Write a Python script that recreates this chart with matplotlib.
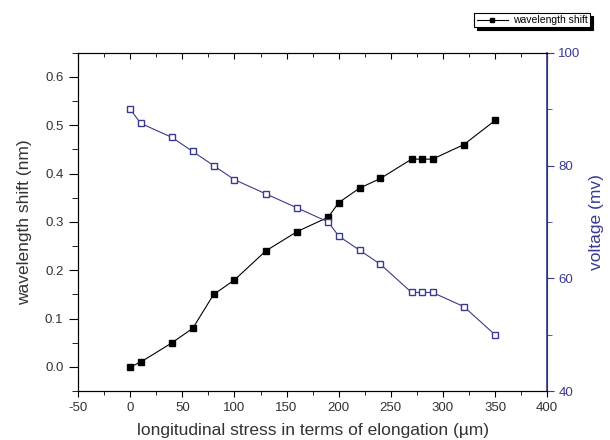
import matplotlib.pyplot as plt
from matplotlib.ticker import MultipleLocator

# elongation (um)
elongation = [0, 10, 40, 60, 80, 100, 130, 160, 190, 200, 220, 240, 270, 280, 290, 320, 350]
# wavelength shift (nm)
wl_shift = [0.0, 0.01, 0.05, 0.08, 0.15, 0.18, 0.24, 0.28, 0.31, 0.34, 0.37, 0.39,
            0.43, 0.43, 0.43, 0.46, 0.51]
# voltage (mv)
voltage = [90, 87.5, 85, 82.5, 80, 77.5, 75, 72.5, 70, 67.5, 65, 62.5,
           57.5, 57.5, 57.5, 55, 50]

NAVY = "#3a3a8f"
TXT = "#333333"


def main():
    plt.rcParams["font.family"] = ["Liberation Sans", "DejaVu Sans"]
    plt.rcParams["axes.unicode_minus"] = False

    fig = plt.figure(figsize=(6.1, 4.4), dpi=100)
    ax = fig.add_axes([0.128, 0.111, 0.769, 0.769])

    ax.plot(elongation, wl_shift, color="black", lw=0.8, marker="s",
            ms=5, mfc="black", mec="black", label="wavelength shift")
    ax.set_xlim(-50, 400)
    ax.set_ylim(-0.05, 0.65)
    ax.xaxis.set_major_locator(MultipleLocator(50))
    ax.xaxis.set_minor_locator(MultipleLocator(25))
    ax.yaxis.set_major_locator(MultipleLocator(0.1))
    ax.yaxis.set_minor_locator(MultipleLocator(0.05))
    ax.yaxis.set_major_formatter(plt.FormatStrFormatter("%.1f"))
    ax.tick_params(axis="both", which="both", direction="out", labelsize=9.5,
                   labelcolor=TXT)
    ax.tick_params(axis="y", which="major", length=6.5, pad=4)
    ax.tick_params(axis="y", which="minor", length=4.5)
    ax.tick_params(axis="x", which="major", length=4.5, pad=3.5)
    ax.tick_params(axis="x", which="minor", length=3)
    ax.tick_params(axis="x", which="both", top=True, bottom=True)
    ax.set_xlabel("longitudinal stress in terms of elongation (\u00b5m)",
                  fontsize=12.5, labelpad=6, color=TXT)
    ax.set_ylabel("wavelength shift (nm)", fontsize=12.5, labelpad=9, color=TXT)

    # bottom ticks outward, top ticks inward
    for t in ax.xaxis.get_major_ticks() + ax.xaxis.get_minor_ticks():
        t.tick1line.set_marker(3)  # TICKDOWN
        t.tick2line.set_marker(3)

    ax2 = ax.twinx()
    ax2.plot(elongation, voltage, color=NAVY, lw=0.8, marker="s", ms=5,
             mfc="white", mec=NAVY, mew=1.0)
    ax2.set_ylim(40, 100)
    ax2.yaxis.set_major_locator(MultipleLocator(20))
    ax2.yaxis.set_minor_locator(MultipleLocator(10))
    ax2.tick_params(axis="y", which="major", length=5, labelsize=9.5,
                    colors=NAVY, direction="out", pad=3)
    ax2.tick_params(axis="y", which="minor", length=3.5, colors=NAVY, direction="out")
    ax2.spines["right"].set_color(NAVY)
    ax2.spines["right"].set_linewidth(1.2)
    ax2.set_ylabel("voltage (mv)", fontsize=12.5, color=NAVY, labelpad=6)

    leg = ax.legend(loc="upper right", bbox_to_anchor=(0.967, 0.970),
                    bbox_transform=fig.transFigure, fontsize=7.5, frameon=True,
                    fancybox=False, shadow={"color": "black", "alpha": 1},
                    edgecolor="black", borderpad=0.2, handlelength=3.0,
                    handletextpad=0.5, borderaxespad=0, markerscale=0.7)
    leg.get_frame().set_linewidth(0.8)

    fig.savefig("out.png", dpi=100)
    plt.close(fig)


if __name__ == "__main__":
    main()
